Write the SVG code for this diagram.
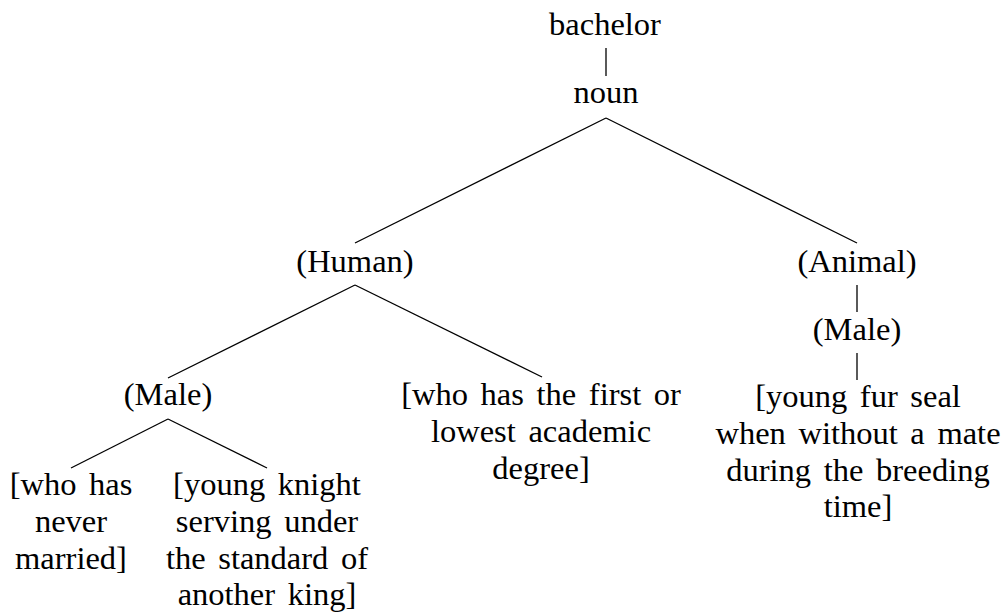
<svg xmlns="http://www.w3.org/2000/svg" width="1005" height="616" viewBox="0 0 1005 616">
  <style>
    text { font-family: "Liberation Serif", "Times New Roman", serif; font-size: 32.5px; fill: #000; text-anchor: middle; word-spacing: 4.5px; }
    .edge { stroke: #000; stroke-width: 1.3; fill: none; }
  </style>
  <rect width="1005" height="616" fill="#fff"/>

  <!-- tree edges -->
  <g id="connectors">
    <line class="edge" x1="606" y1="48" x2="606" y2="76"/>
    <line class="edge" x1="606" y1="118" x2="355" y2="243"/>
    <line class="edge" x1="606" y1="118" x2="857" y2="243"/>
    <line class="edge" x1="355" y1="285" x2="168" y2="378"/>
    <line class="edge" x1="355" y1="285" x2="542" y2="377"/>
    <line class="edge" x1="857" y1="285" x2="857" y2="312"/>
    <line class="edge" x1="857" y1="353" x2="857" y2="380"/>
    <line class="edge" x1="168" y1="419" x2="71" y2="468"/>
    <line class="edge" x1="168" y1="419" x2="267" y2="468"/>
  </g>

  <g id="bachelor"><text x="605" y="35">bachelor</text></g>
  <g id="noun"><text x="606" y="103">noun</text></g>
  <g id="human"><text x="355" y="272">(Human)</text></g>
  <g id="animal"><text x="857" y="272">(Animal)</text></g>
  <g id="animal-male"><text x="857" y="340">(Male)</text></g>
  <g id="fur-seal">
    <text x="858" y="407">[young fur seal</text>
    <text x="858" y="444">when without a mate</text>
    <text x="858" y="481">during the breeding</text>
    <text x="858" y="517">time]</text>
  </g>
  <g id="human-male"><text x="168" y="405">(Male)</text></g>
  <g id="degree">
    <text x="541" y="405">[who has the first or</text>
    <text x="541" y="442">lowest academic</text>
    <text x="541" y="479">degree]</text>
  </g>
  <g id="unmarried">
    <text x="71" y="495">[who has</text>
    <text x="71" y="532">never</text>
    <text x="71" y="569">married]</text>
  </g>
  <g id="knight">
    <text x="267" y="495">[young knight</text>
    <text x="267" y="532">serving under</text>
    <text x="267" y="569">the standard of</text>
    <text x="267" y="605">another king]</text>
  </g>
</svg>
